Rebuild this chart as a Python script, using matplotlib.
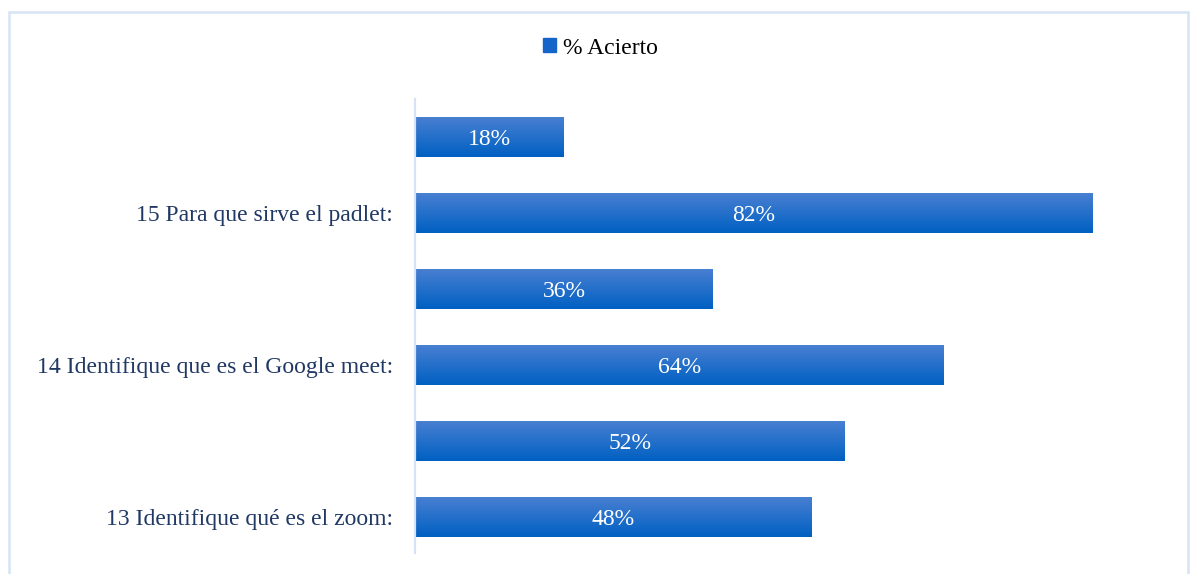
import numpy as np
import matplotlib
matplotlib.use("Agg")
import matplotlib.pyplot as plt
from matplotlib.patches import Rectangle
from matplotlib.colors import LinearSegmentedColormap

# bars from bottom to top
values = [0.48, 0.52, 0.64, 0.36, 0.82, 0.18]
value_labels = ["48%", "52%", "64%", "36%", "82%", "18%"]
cat_labels = ["13 Identifique qué es el zoom:", "",
              "14 Identifique que es el Google meet:", "",
              "15 Para que sirve el padlet:", ""]
series_name = "% Acierto"

plt.rcParams['font.family'] = ['Liberation Serif', 'DejaVu Serif']

fig = plt.figure(figsize=(11.93, 5.74), dpi=100)
ax = fig.add_axes([0.348, 0.0366, 0.6235, 0.791])

grad = LinearSegmentedColormap.from_list("g", ["#0060C2", "#4A80D2"])
ypos = np.arange(len(values))
bars = ax.barh(ypos, values, height=0.53, color="#1565C8", label=series_name)
gimg = np.linspace(0, 1, 64).reshape(-1, 1)
for b in bars:
    x0, y0 = b.get_x(), b.get_y()
    w, h = b.get_width(), b.get_height()
    im = ax.imshow(gimg, cmap=grad, aspect="auto", origin="lower",
                   extent=[x0, x0 + w, y0, y0 + h], zorder=2)
    im.set_clip_path(b)
for y, v, lab in zip(ypos, values, value_labels):
    ax.text(v / 2, y - 0.03, lab, color="white", ha="center", va="center",
            fontsize=17, zorder=3)

ax.set_xlim(0, 0.9)
ax.set_ylim(-0.47, 5.5)
ax.set_yticks(ypos)
ax.set_yticklabels(cat_labels, fontsize=17, color="#203864")
ax.tick_params(axis="y", length=0, pad=16)
ax.set_xticks([])
for s in ["top", "right", "bottom"]:
    ax.spines[s].set_visible(False)
ax.spines["left"].set_color("#D6E3F4")
ax.spines["left"].set_linewidth(1.6)

leg = fig.legend(handles=[Rectangle((0, 0), 1, 1, color="#1565C8")],
                 labels=[series_name], loc="center", bbox_to_anchor=(0.503, 0.916),
                 frameon=False, fontsize=17, handlelength=0.55, handleheight=0.55,
                 handletextpad=0.3)

fig.add_artist(Rectangle((9 / 1193, -0.05), 1179 / 1193, 1.05 - 12 / 574,
                         transform=fig.transFigure, fill=False,
                         edgecolor="#D6E3F4", linewidth=1.8))

fig.savefig("out.png", dpi=100)
